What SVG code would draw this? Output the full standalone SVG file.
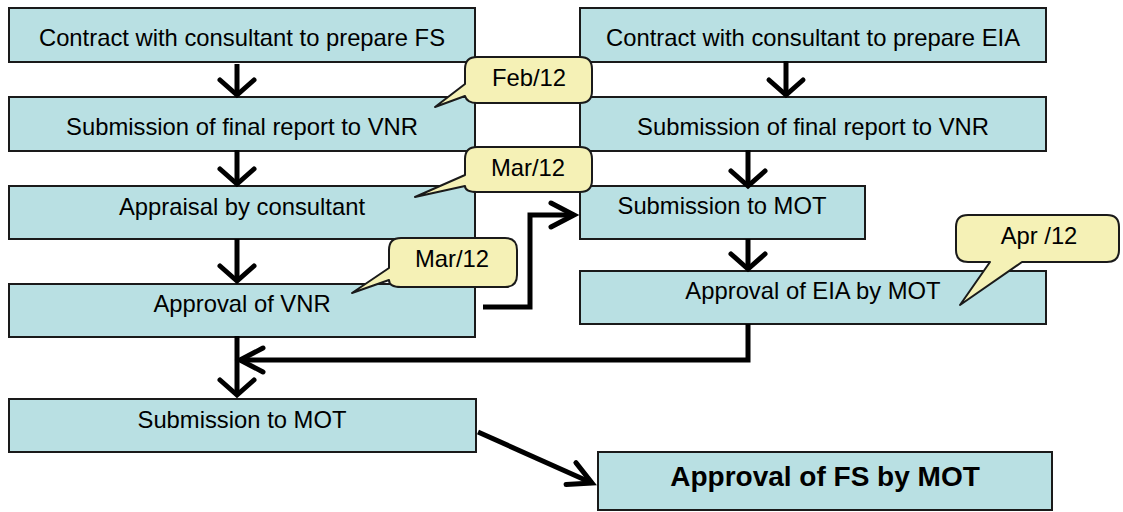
<svg xmlns="http://www.w3.org/2000/svg" width="1123" height="512" viewBox="0 0 1123 512">
  <style>
    .box { fill: #B9E0E3; stroke: #1a1a1a; stroke-width: 2; }
    .note { fill: #F5F1B6; stroke: #1a1a1a; stroke-width: 2; stroke-linejoin: round; }
    .lbl { font-family: "Liberation Sans", Arial, sans-serif; font-size: 23.8px; fill: #000; text-anchor: middle; }
    .big { font-family: "Liberation Sans", Arial, sans-serif; font-size: 28px; font-weight: bold; fill: #000; text-anchor: middle; }
    .wire { fill: none; stroke: #000; stroke-width: 5; }
  </style>
  <defs>
    <!-- wide open chevron for the short downward steps -->
    <marker id="down" markerUnits="userSpaceOnUse" viewBox="-20 -22 24 44" refX="0" refY="0" markerWidth="24" markerHeight="44" orient="auto" overflow="visible">
      <path d="M-15,-17 L0,0 L-15,17" fill="none" stroke="#000" stroke-width="5" stroke-linecap="round"/>
    </marker>
    <!-- narrower open chevron for the long connectors -->
    <marker id="point" markerUnits="userSpaceOnUse" viewBox="-28 -16 32 32" refX="0" refY="0" markerWidth="32" markerHeight="32" orient="auto" overflow="visible">
      <path d="M-23,-12 L0,0 L-23,12" fill="none" stroke="#000" stroke-width="5" stroke-linecap="round"/>
    </marker>
  </defs>

  <!-- FS track (left column) -->
  <g id="fs-contract">
    <rect class="box" x="9" y="8" width="466" height="54"/>
    <text class="lbl" x="242" y="46">Contract with consultant to prepare FS</text>
  </g>
  <g id="fs-report">
    <rect class="box" x="9" y="97" width="466" height="54"/>
    <text class="lbl" x="242" y="135">Submission of final report to VNR</text>
  </g>
  <g id="fs-appraisal">
    <rect class="box" x="9" y="186" width="466" height="53"/>
    <text class="lbl" x="242" y="215">Appraisal by consultant</text>
  </g>
  <g id="fs-vnr-approval">
    <rect class="box" x="9" y="284" width="466" height="53"/>
    <text class="lbl" x="242" y="312">Approval of VNR</text>
  </g>
  <g id="fs-submit-mot">
    <rect class="box" x="9" y="399" width="467" height="53"/>
    <text class="lbl" x="242" y="428">Submission to MOT</text>
  </g>

  <!-- EIA track (right column) -->
  <g id="eia-contract">
    <rect class="box" x="580" y="8" width="466" height="54"/>
    <text class="lbl" x="813" y="46">Contract with consultant to prepare EIA</text>
  </g>
  <g id="eia-report">
    <rect class="box" x="580" y="97" width="466" height="54"/>
    <text class="lbl" x="813" y="135">Submission of final report to VNR</text>
  </g>
  <g id="eia-submit-mot">
    <rect class="box" x="580" y="186" width="285" height="53"/>
    <text class="lbl" x="722" y="214">Submission to MOT</text>
  </g>
  <g id="eia-approval">
    <rect class="box" x="580" y="271" width="466" height="53"/>
    <text class="lbl" x="813" y="299">Approval of EIA by MOT</text>
  </g>

  <!-- final outcome -->
  <g id="fs-approval">
    <rect class="box" x="598" y="452" width="454" height="58"/>
    <text class="big" x="825" y="486">Approval of FS by MOT</text>
  </g>

  <!-- connectors -->
  <g id="connectors">
    <path class="wire" d="M237,64 V95" marker-end="url(#down)"/>
    <path class="wire" d="M237,150 V184" marker-end="url(#down)"/>
    <path class="wire" d="M237,239 V281" marker-end="url(#down)"/>
    <path class="wire" d="M237,336 V395" marker-end="url(#down)"/>
    <path class="wire" d="M786,61 V95" marker-end="url(#down)"/>
    <path class="wire" d="M748,150 V186" marker-end="url(#down)"/>
    <path class="wire" d="M748,239 V269" marker-end="url(#down)"/>
    <path class="wire" d="M748,324 V360 H240" marker-end="url(#point)"/>
    <path class="wire" d="M483,307 H530 V215 H574" marker-end="url(#point)"/>
    <path class="wire" d="M478,432 L592,483" marker-end="url(#point)"/>
  </g>

  <!-- date callouts -->
  <g id="note-feb12">
    <path class="note" d="M477,57 H580 Q592,57 592,69 V91 Q592,103 580,103 H477 Q467,103 465,96 L435,107 L465,84 V69 Q465,57 477,57 Z"/>
    <text class="lbl" x="529" y="86">Feb/12</text>
  </g>
  <g id="note-mar12-a">
    <path class="note" d="M477,147 H580 Q592,147 592,159 V180 Q592,192 580,192 H477 Q465,192 465,186 L415,197 L465,175 V159 Q465,147 477,147 Z"/>
    <text class="lbl" x="528" y="176">Mar/12</text>
  </g>
  <g id="note-mar12-b">
    <path class="note" d="M401,238 H505 Q517,238 517,250 V275 Q517,287 505,287 H401 Q389,287 389,280 L352,293 L389,268 V250 Q389,238 401,238 Z"/>
    <text class="lbl" x="452" y="267">Mar/12</text>
  </g>
  <g id="note-apr12">
    <path class="note" d="M968,215 H1107 Q1119,215 1119,227 V250 Q1119,262 1107,262 H1022 L960,305 L990,262 H968 Q956,262 956,250 V227 Q956,215 968,215 Z"/>
    <text class="lbl" x="1039" y="244">Apr /12</text>
  </g>
</svg>
